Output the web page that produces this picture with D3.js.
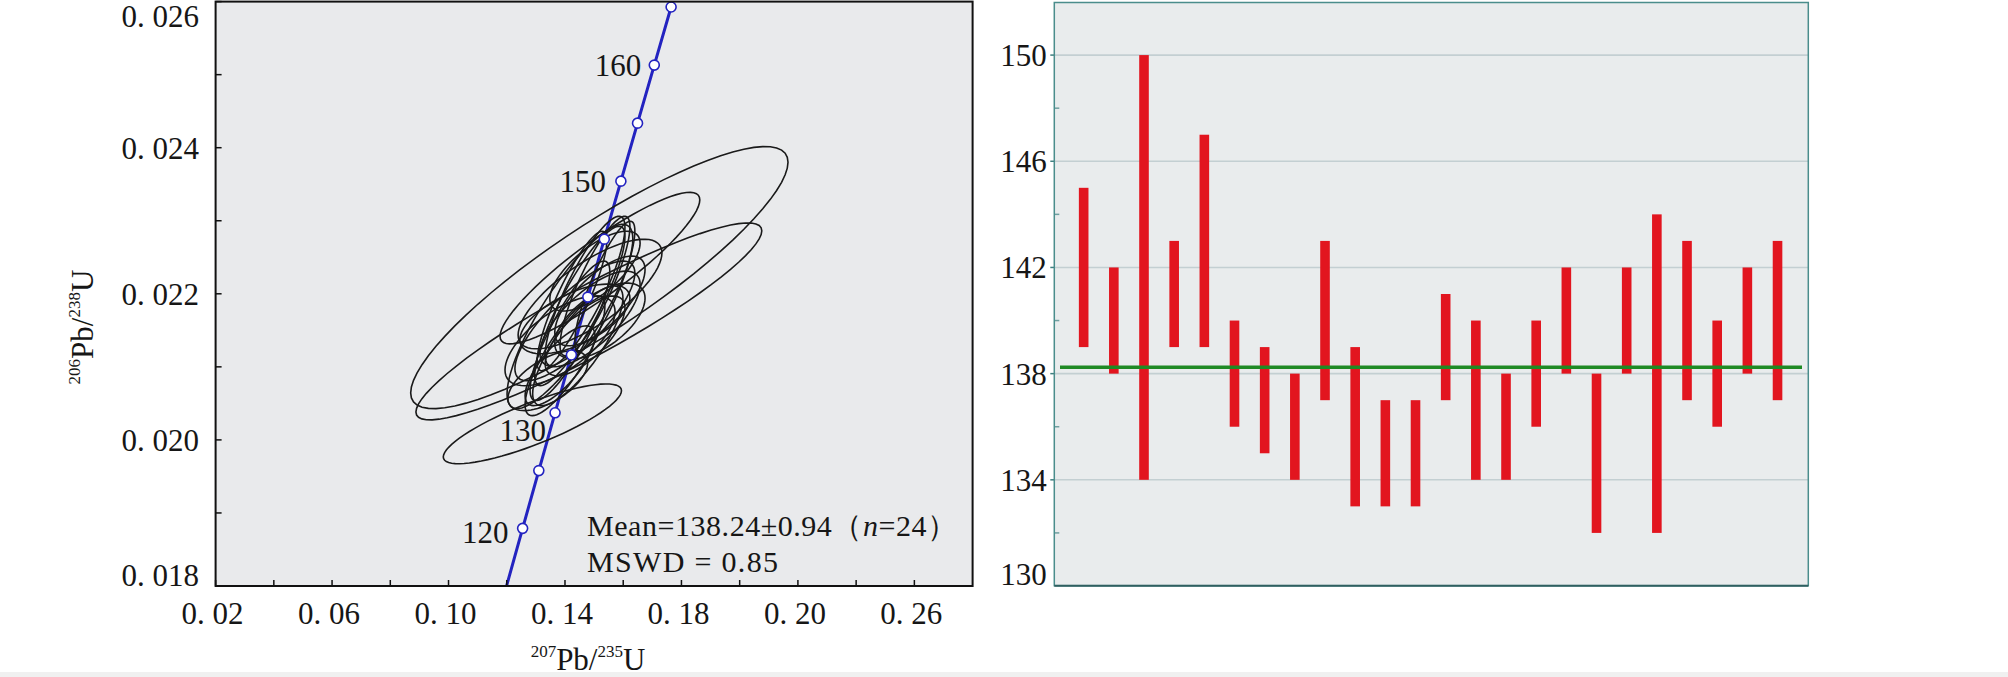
<!DOCTYPE html>
<html>
<head>
<meta charset="utf-8">
<script src="https://cdn.jsdelivr.net/npm/d3@7"></script>
<style>
  body { margin: 0; background: #fff; }
  text { font-family: "Liberation Serif", "Times New Roman", serif; fill: #161616; }
</style>
</head>
<body>
<svg id="chart" width="2008" height="677"></svg>
<script>
// concordia points (age Ma, 207Pb/235U, 206Pb/238U)
var concAge = [115, 120, 125, 130, 135, 140, 145, 150, 155, 160, 165, 170];
var concX = [0.11992, 0.12545, 0.13101, 0.13659, 0.14220, 0.14784, 0.15350, 0.15920, 0.16492, 0.17067, 0.17645, 0.18226];
var concY = [0.017999, 0.018789, 0.019580, 0.020371, 0.021163, 0.021955, 0.022748, 0.023542, 0.024336, 0.025131, 0.025926, 0.026722];
var concLabelAges = [120, 130, 150, 160];

var xTicks = [0.02, 0.06, 0.10, 0.14, 0.18, 0.22, 0.26];
var xTickLabels = ["0. 02", "0. 06", "0. 10", "0. 14", "0. 18", "0. 20", "0. 26"];
var yTicks = [0.018, 0.020, 0.022, 0.024, 0.026];
var yTickLabels = ["0. 018", "0. 020", "0. 022", "0. 024", "0. 026"];

// spot analyses: ratios, 2s errors, error correlation
var pb75 = [0.1518, 0.1482, 0.1520, 0.1417, 0.1288, 0.1486, 0.1434, 0.1451, 0.1469, 0.1417, 0.1503, 0.1444,
            0.1400, 0.1520, 0.1486, 0.1383, 0.1537, 0.1424, 0.1383, 0.1469, 0.1434, 0.1520, 0.1341, 0.1503];
var pb75Err = [0.0648, 0.0594, 0.0343, 0.0216, 0.0306, 0.0247, 0.0206, 0.0155, 0.0137, 0.0137, 0.0120, 0.0155,
               0.0137, 0.0155, 0.0172, 0.0189, 0.0103, 0.0120, 0.0120, 0.0137, 0.0189, 0.0155, 0.0137, 0.0155];
var pb68 = [0.022222, 0.021622, 0.022352, 0.021690, 0.020220, 0.021997, 0.021629, 0.021834, 0.022038, 0.021493, 0.022106, 0.021288,
            0.021151, 0.021902, 0.021656, 0.021356, 0.022106, 0.021902, 0.021015, 0.021424, 0.021656, 0.021629, 0.020810, 0.022311];
var pb68Err = [0.001794, 0.001348, 0.001037, 0.001262, 0.000546, 0.000750, 0.000819, 0.001091, 0.001023, 0.000955, 0.000955, 0.000819,
               0.000819, 0.000614, 0.000655, 0.000614, 0.000887, 0.000955, 0.000546, 0.000546, 0.000477, 0.000518, 0.000409, 0.000546];
var rho = [0.88, 0.92, 0.90, 0.84, 0.83, 0.75, 0.80, 0.87, 0.85, 0.85, 0.85, 0.80,
           0.82, 0.70, 0.72, 0.65, 0.85, 0.87, 0.75, 0.70, 0.60, 0.60, 0.60, 0.70];

// 206Pb/238U ages and errors, weighted mean
var spotAge = [142, 140, 142, 141, 143, 138, 137, 136, 140, 136, 135, 135, 139, 137, 136, 138, 140, 135, 140, 138, 140, 138, 140, 140];
var spotErr = [3, 2, 8, 2, 4, 2, 2, 2, 3, 3, 2, 2, 2, 3, 2, 2, 2, 3, 2, 6, 3, 2, 2, 3];
var meanAge = 138.24;
var ageTicks = [130, 134, 138, 142, 146, 150];
var ageMinor = [132, 136, 140, 144, 148];

var svg = d3.select('#chart');

svg.append('rect').attr('x', 0).attr('y', 672).attr('width', 2008).attr('height', 5).attr('fill', '#f0f0f0');

//
// concordia panel
var L = { left: 215.6, right: 972.6, top: 1.6, bottom: 586 };
var x = d3.scaleLinear().domain([0.02, 0.28]).range([L.left, L.right]);
var y = d3.scaleLinear().domain([0.018, 0.026]).range([L.bottom, L.top]);

svg.append('rect')
  .attr('x', L.left).attr('y', L.top).attr('width', L.right - L.left).attr('height', L.bottom - L.top)
  .attr('fill', '#e9eaec');

svg.append('clipPath').attr('id', 'clipL').append('rect')
  .attr('x', L.left).attr('y', L.top).attr('width', L.right - L.left).attr('height', L.bottom - L.top);

var plotL = svg.append('g').attr('clip-path', 'url(#clipL)');

plotL.append('path')
  .attr('d', d3.line().x((d, i) => x(concX[i])).y((d, i) => y(concY[i]))(concAge))
  .attr('fill', 'none').attr('stroke', '#2323c0').attr('stroke-width', 3);

// error ellipses
var theta = d3.range(0, 73).map((k) => k * Math.PI * 2 / 72);
var ellipse = d3.line().curve(d3.curveLinearClosed);
plotL.selectAll('path.ell')
  .data(pb75)
  .enter().append('path')
  .attr('class', 'ell')
  .attr('d', (d, i) => ellipse(theta.map((t) => {
    var r = rho[i];
    return [x(pb75[i] + pb75Err[i] * Math.cos(t)),
            y(pb68[i] + pb68Err[i] * (r * Math.cos(t) + Math.sqrt(1 - r * r) * Math.sin(t)))];
  })))
  .attr('fill', 'none').attr('stroke', '#1a1a1a').attr('stroke-width', 1.6);

var marks = concAge.map((a, i) => i).filter((i) => concY[i] > 0.018 && concY[i] < 0.026);
plotL.selectAll('circle.age')
  .data(marks)
  .enter().append('circle')
  .attr('cx', (i) => x(concX[i])).attr('cy', (i) => y(concY[i])).attr('r', 5)
  .attr('fill', '#fff').attr('stroke', '#2323c0').attr('stroke-width', 1.6);

var labelOffset = { 120: [-14, 15], 130: [-9, 28], 150: [-15, 11], 160: [-13, 11] };
svg.selectAll('text.age')
  .data(concLabelAges)
  .enter().append('text')
  .attr('x', (a) => x(concX[concAge.indexOf(a)]) + labelOffset[a][0])
  .attr('y', (a) => y(concY[concAge.indexOf(a)]) + labelOffset[a][1])
  .attr('text-anchor', 'end').attr('font-size', 31)
  .text((a) => a);

// ticks point inward
svg.selectAll('line.xt')
  .data(d3.range(2, 27, 2).map((v) => v / 100))
  .enter().append('line')
  .attr('x1', (d) => x(d)).attr('x2', (d) => x(d))
  .attr('y1', L.bottom).attr('y2', L.bottom - 6)
  .attr('stroke', '#111').attr('stroke-width', 1.5);
svg.selectAll('line.yt')
  .data(d3.range(18, 27).map((v) => v / 1000))
  .enter().append('line')
  .attr('x1', L.left).attr('x2', L.left + 6)
  .attr('y1', (d) => y(d)).attr('y2', (d) => y(d))
  .attr('stroke', '#111').attr('stroke-width', 1.5);

svg.selectAll('text.xl')
  .data(xTicks)
  .enter().append('text')
  .attr('x', (d) => x(d) - 3).attr('y', 624)
  .attr('text-anchor', 'middle').attr('font-size', 31)
  .text((d, i) => xTickLabels[i]);
svg.selectAll('text.yl')
  .data(yTicks)
  .enter().append('text')
  .attr('x', 199).attr('y', (d) => Math.min(Math.max(y(d) + 11, 27), 586))
  .attr('text-anchor', 'end').attr('font-size', 31)
  .text((d, i) => yTickLabels[i]);

svg.append('rect')
  .attr('x', L.left).attr('y', L.top).attr('width', L.right - L.left).attr('height', L.bottom - L.top)
  .attr('fill', 'none').attr('stroke', '#111').attr('stroke-width', 2);

var xt = svg.append('text').attr('x', 588).attr('y', 670).attr('text-anchor', 'middle').attr('font-size', 31);
xt.append('tspan').attr('font-size', 17).attr('dy', -13).text('207');
xt.append('tspan').attr('dy', 13).text('Pb/');
xt.append('tspan').attr('font-size', 17).attr('dy', -13).text('235');
xt.append('tspan').attr('dy', 13).text('U');

var yt = svg.append('text').attr('transform', 'translate(93,327) rotate(-90)').attr('text-anchor', 'middle').attr('font-size', 31);
yt.append('tspan').attr('font-size', 17).attr('dy', -13).text('206');
yt.append('tspan').attr('dy', 13).text('Pb/');
yt.append('tspan').attr('font-size', 17).attr('dy', -13).text('238');
yt.append('tspan').attr('dy', 13).text('U');

var mt = svg.append('text').attr('x', 587).attr('y', 536).attr('font-size', 30)
  .attr('textLength', 370).attr('lengthAdjust', 'spacing');
mt.append('tspan').text('Mean=' + meanAge + '±0.94（');
mt.append('tspan').attr('font-style', 'italic').text('n');
mt.append('tspan').text('=' + spotAge.length + '）');
svg.append('text').attr('x', 587).attr('y', 572).attr('font-size', 30)
  .attr('textLength', 191).attr('lengthAdjust', 'spacing')
  .text('MSWD = 0.85');

//
// age bar panel
var R = { left: 1054.3, right: 1808.3, top: 2.5, bottom: 585.7 };
var xi = d3.scaleLinear().domain([0, 25]).range([1053.5, 1807.7]);
var ya = d3.scaleLinear().domain([130, 152]).range([586, 2]);

svg.append('rect')
  .attr('x', R.left).attr('y', R.top).attr('width', R.right - R.left).attr('height', R.bottom - R.top)
  .attr('fill', '#e9eced');

svg.selectAll('line.grid')
  .data(ageTicks.slice(1))
  .enter().append('line')
  .attr('x1', R.left).attr('x2', R.right)
  .attr('y1', (d) => ya(d)).attr('y2', (d) => ya(d))
  .attr('stroke', '#c3cfd2').attr('stroke-width', 1.6);

svg.selectAll('line.maj')
  .data(ageTicks.slice(1))
  .enter().append('line')
  .attr('x1', R.left - 4).attr('x2', R.left)
  .attr('y1', (d) => ya(d)).attr('y2', (d) => ya(d))
  .attr('stroke', '#3f7f80').attr('stroke-width', 1.5);
svg.selectAll('line.min')
  .data(ageMinor)
  .enter().append('line')
  .attr('x1', R.left).attr('x2', R.left + 5)
  .attr('y1', (d) => ya(d)).attr('y2', (d) => ya(d))
  .attr('stroke', '#6f9fa0').attr('stroke-width', 1.5);

svg.selectAll('rect.bar')
  .data(spotAge)
  .enter().append('rect')
  .attr('x', (d, i) => xi(i + 1) - 4.8)
  .attr('y', (d, i) => ya(d + spotErr[i]))
  .attr('width', 9.6)
  .attr('height', (d, i) => ya(d - spotErr[i]) - ya(d + spotErr[i]))
  .attr('fill', '#e2151f');

svg.append('line')
  .attr('x1', 1060).attr('x2', 1802)
  .attr('y1', ya(meanAge)).attr('y2', ya(meanAge))
  .attr('stroke', '#1f8a24').attr('stroke-width', 3.5);

svg.selectAll('text.al')
  .data(ageTicks)
  .enter().append('text')
  .attr('x', 1046.7).attr('y', (d) => Math.min(ya(d) + 11, 585))
  .attr('text-anchor', 'end').attr('font-size', 31)
  .text((d) => d);

svg.append('rect')
  .attr('x', R.left).attr('y', R.top).attr('width', R.right - R.left).attr('height', R.bottom - R.top)
  .attr('fill', 'none').attr('stroke', '#4a8d8c').attr('stroke-width', 1.5);
svg.append('line')
  .attr('x1', R.left).attr('x2', R.right).attr('y1', R.bottom).attr('y2', R.bottom)
  .attr('stroke', '#2f5f60').attr('stroke-width', 2);
</script>
</body>
</html>
